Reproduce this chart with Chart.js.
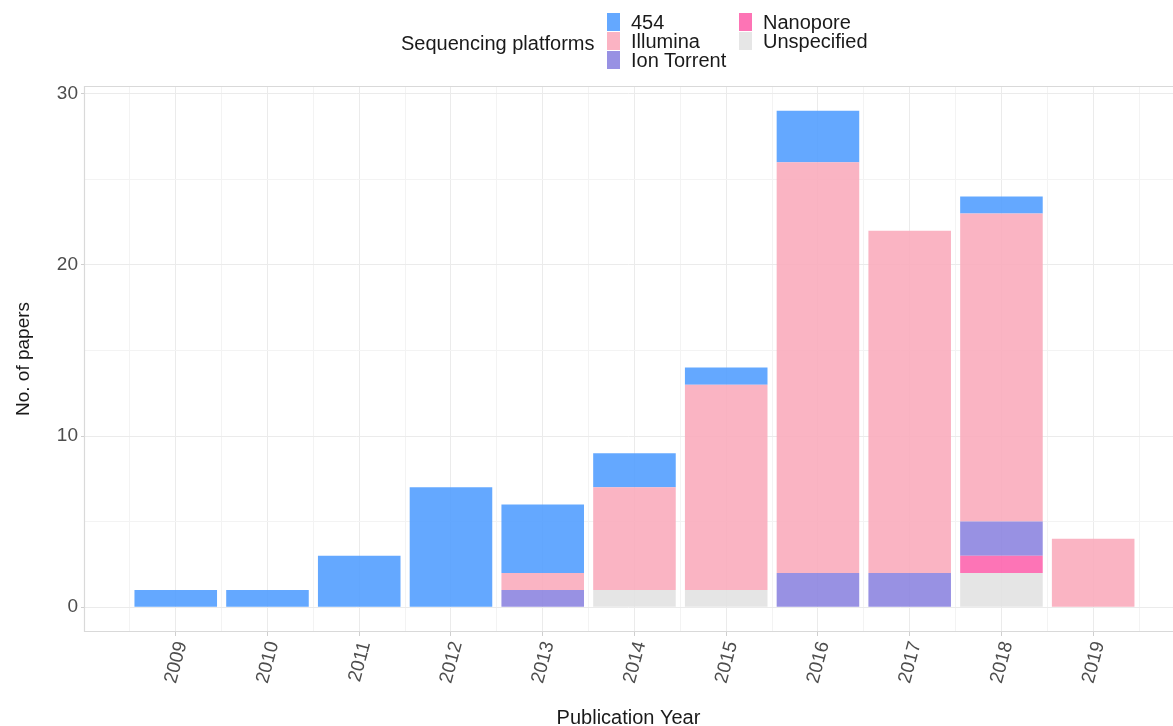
<!DOCTYPE html>
<html>
<head>
<meta charset="utf-8">
<script src="https://cdn.jsdelivr.net/npm/chart.js@4"></script>
<style>
  html, body { margin: 0; padding: 0; background: #fff; }
  #wrap { position: relative; width: 1173px; height: 726px; }
  #legend { position: absolute; left: 0; top: 0; font-family: "Liberation Sans", Arial, sans-serif; font-size: 20px; color: #1a1a1a; }
  .ltitle { position: absolute; left: 401px; top: 31px; white-space: nowrap; line-height: 24px; }
  .litem { position: absolute; white-space: nowrap; line-height: 20px; }
  .sw { position: absolute; width: 13px; height: 18px; left: 0; top: 1px; }
  .lt { position: absolute; left: 24px; top: 0; }
</style>
</head>
<body>
<div id="wrap">
  <canvas id="c" width="1173" height="726"></canvas>
  <div id="legend"></div>
</div>
<script>
const years = ['2009','2010','2011','2012','2013','2014','2015','2016','2017','2018','2019'];
const platforms = ['454','Illumina','Ion Torrent','Nanopore','Unspecified'];
const colors = {
  '454': 'rgba(83,158,255,0.9)',
  'Illumina': 'rgba(250,172,188,0.9)',
  'Ion Torrent': 'rgba(141,133,224,0.9)',
  'Nanopore': 'rgba(253,101,174,0.9)',
  'Unspecified': 'rgba(226,226,226,0.9)'
};
const legendColors = {
  '454': '#64a8ff',
  'Illumina': '#fbb3c3',
  'Ion Torrent': '#9891e3',
  'Nanopore': '#fd74b5',
  'Unspecified': '#e6e6e6'
};
const v454        = [1, 1, 3, 7, 4, 2, 1, 3, 0, 1, 0];
const vIllumina   = [0, 0, 0, 0, 1, 6, 12, 24, 20, 18, 4];
const vIonTorrent = [0, 0, 0, 0, 1, 0, 0, 2, 2, 2, 0];
const vNanopore   = [0, 0, 0, 0, 0, 0, 0, 0, 0, 1, 0];
const vUnspec     = [0, 0, 0, 0, 0, 1, 1, 0, 0, 2, 0];
const yTicks = [0, 10, 20, 30];
const yGrid = [0, 5, 10, 15, 20, 25, 30];

const seriesValues = {
  '454': v454, 'Illumina': vIllumina, 'Ion Torrent': vIonTorrent,
  'Nanopore': vNanopore, 'Unspecified': vUnspec
};
// stacking order bottom -> top
const stackOrder = ['Unspecified', 'Nanopore', 'Ion Torrent', 'Illumina', '454'];

const datasets = stackOrder.map(name => ({
  label: name,
  data: seriesValues[name].map((v, i) => ({ x: i, y: v })),
  backgroundColor: colors[name],
  borderWidth: 0,
  categoryPercentage: 1,
  barPercentage: 0.9,
  stack: 's',
  xAxisID: 'x'
}));

// HTML legend (ggplot-style, 2 columns, column-major)
const legend = document.getElementById('legend');
const t = document.createElement('div');
t.className = 'ltitle';
t.textContent = 'Sequencing platforms';
legend.appendChild(t);
const colX = [607, 739];
const rowY = [12, 31, 50];
platforms.forEach((p, k) => {
  const col = Math.floor(k / 3), row = k % 3;
  const it = document.createElement('div');
  it.className = 'litem';
  it.style.left = colX[col] + 'px';
  it.style.top = rowY[row] + 'px';
  const sw = document.createElement('div');
  sw.className = 'sw';
  sw.style.background = legendColors[p];
  const tx = document.createElement('div');
  tx.className = 'lt';
  tx.textContent = p;
  it.appendChild(sw); it.appendChild(tx);
  legend.appendChild(it);
});

const panelBorder = {
  id: 'panelBorder',
  afterDatasetsDraw(chart) {
    const { ctx, chartArea: a } = chart;
    ctx.save();
    ctx.strokeStyle = '#d9d9d9';
    ctx.lineWidth = 1.2;
    ctx.beginPath();
    ctx.moveTo(a.right + 2, a.top + 0.5);
    ctx.lineTo(a.left + 0.5, a.top + 0.5);
    ctx.lineTo(a.left + 0.5, a.bottom - 0.5);
    ctx.lineTo(a.right + 2, a.bottom - 0.5);
    ctx.stroke();
    ctx.restore();
  }
};

const FONT = '"Liberation Sans", Arial, sans-serif';
const X_MIN = -1.0, X_MAX = 10.87;

new Chart(document.getElementById('c'), {
  type: 'bar',
  data: { datasets },
  plugins: [panelBorder],
  options: {
    responsive: false,
    animation: false,
    layout: { padding: { top: 86, right: 0, left: 0, bottom: 0 } },
    plugins: { legend: { display: false }, tooltip: { enabled: false } },
    scales: {
      x: {
        type: 'linear',
        stacked: true,
        offset: false,
        min: X_MIN,
        max: X_MAX,
        afterBuildTicks: s => { s.ticks = years.map((y, i) => ({ value: i })); },
        afterFit: s => { s.height = 94; },
        border: { display: false },
        grid: {
          offset: false,
          color: '#ebebeb',
          lineWidth: 1,
          tickColor: '#cfcfcf',
          tickLength: 4
        },
        ticks: {
          autoSkip: false,
          minRotation: 75,
          maxRotation: 75,
          padding: 3,
          labelOffset: 6,
          color: '#4d4d4d',
          font: { family: FONT, size: 19 },
          callback: v => years[Math.round(v)]
        },
        title: {
          display: true,
          text: 'Publication Year',
          color: '#1a1a1a',
          font: { family: FONT, size: 20 },
          padding: { top: 0, bottom: -4 }
        }
      },
      xg: {
        type: 'linear',
        position: 'bottom',
        offset: false,
        min: X_MIN,
        max: X_MAX,
        afterBuildTicks: s => { s.ticks = years.map((y, i) => ({ value: i - 0.5 })).concat([{ value: years.length - 0.5 }]); },
        afterFit: s => { s.height = 0; },
        border: { display: false },
        grid: { offset: false, color: '#f3f3f3', lineWidth: 1, drawTicks: false },
        ticks: { display: false }
      },
      y: {
        stacked: true,
        min: -1.45,
        max: 30.45,
        afterBuildTicks: s => { s.ticks = yGrid.map(v => ({ value: v })); },
        afterFit: s => { s.width = 84; },
        border: { display: false },
        grid: {
          color: c => (c.tick && yTicks.includes(c.tick.value)) ? '#ebebeb' : '#f3f3f3',
          lineWidth: 1,
          tickColor: c => (c.tick && yTicks.includes(c.tick.value)) ? '#cfcfcf' : 'rgba(0,0,0,0)',
          tickLength: 3
        },
        ticks: {
          padding: 3,
          color: '#4d4d4d',
          font: { family: FONT, size: 19 },
          callback: v => yTicks.includes(v) ? String(v) : ''
        },
        title: {
          display: true,
          text: 'No. of papers',
          color: '#1a1a1a',
          font: { family: FONT, size: 19 },
          padding: { top: 12, bottom: 0 }
        }
      }
    }
  }
});
</script>
</body>
</html>
